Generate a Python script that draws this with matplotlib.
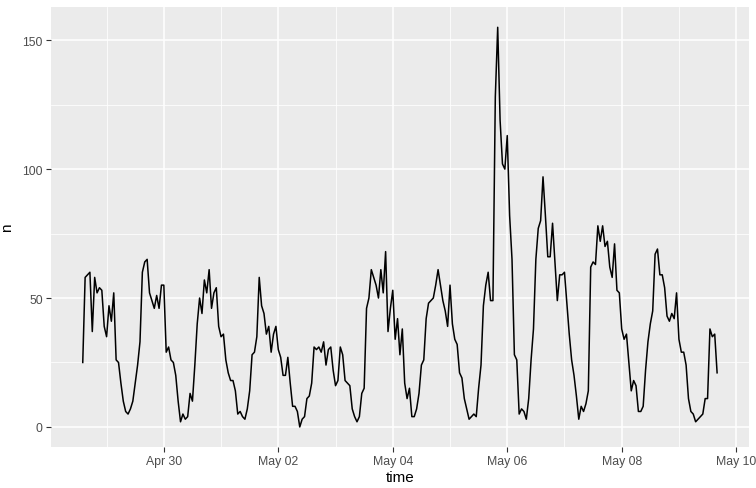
import numpy as np
import pandas as pd
import matplotlib
matplotlib.use("Agg")
import matplotlib.pyplot as plt
import matplotlib.dates as mdates
from matplotlib.ticker import FixedLocator

# hourly counts, first value is Apr 28 14:00
apr28 = [25, 58, 59, 60, 37, 58, 52, 54, 53, 39]
apr29 = [35, 47, 41, 52, 26, 25, 17, 10, 6, 5, 7, 10, 17, 24, 33, 60, 64, 65, 52, 49, 46, 51, 46, 55]
apr30 = [55, 29, 31, 26, 25, 20, 10, 2, 5, 3, 4, 13, 10, 24, 40, 50, 44, 57, 52, 61, 46, 52, 54, 39]
may01 = [35, 36, 26, 21, 18, 18, 14, 5, 6, 4, 3, 7, 14, 28, 29, 35, 58, 47, 44, 36, 39, 29, 36, 39]
may02 = [30, 27, 20, 20, 27, 17, 8, 8, 6, 0, 3, 4, 11, 12, 17, 31, 30, 31, 29, 33, 24, 30, 31, 22]
may03 = [16, 18, 31, 28, 18, 17, 16, 7, 4, 2, 4, 13, 15, 46, 50, 61, 58, 55, 50, 61, 52, 68, 37, 46]
may04 = [53, 34, 42, 28, 38, 17, 11, 15, 4, 4, 7, 13, 24, 26, 42, 48, 49, 50, 55, 61, 55, 49, 45, 39]
may05 = [55, 40, 34, 32, 21, 19, 11, 7, 3, 4, 5, 4, 15, 24, 47, 55, 60, 49, 49, 128, 155, 119, 102, 100]
may06 = [113, 82, 65, 28, 26, 5, 7, 6, 3, 11, 26, 38, 65, 77, 80, 97, 82, 66, 66, 79, 64, 49, 59, 59]
may07 = [60, 48, 36, 26, 20, 12, 3, 8, 6, 9, 14, 62, 64, 63, 78, 72, 78, 70, 72, 62, 58, 71, 53, 52]
may08 = [38, 34, 36, 25, 14, 18, 16, 6, 6, 8, 22, 33, 40, 45, 67, 69, 59, 59, 54, 43, 41, 44, 42, 52]
may09 = [34, 29, 29, 24, 11, 6, 5, 2, 3, 4, 5, 11, 11, 38, 35, 36, 21]

n = apr28 + apr29 + apr30 + may01 + may02 + may03 + may04 + may05 + may06 + may07 + may08 + may09
time = pd.date_range("2024-04-28 14:00", periods=len(n), freq="h")

major_days = ["2024-04-30", "2024-05-02", "2024-05-04", "2024-05-06", "2024-05-08", "2024-05-10"]
minor_days = ["2024-04-29", "2024-05-01", "2024-05-03", "2024-05-05", "2024-05-07", "2024-05-09"]
y_ticks = [0, 50, 100, 150]
y_minor = [25, 75, 125]

plt.rcParams['font.family'] = ['Liberation Sans', 'DejaVu Sans']

fig = plt.figure(figsize=(7.56, 4.89), dpi=100)
ax = fig.add_axes([0.0675, 0.084, 0.923, 0.899])
ax.set_facecolor('#EBEBEB')

ax.plot(time, n, color='black', lw=1.1)

# ggplot-like expansion
t0, t1 = mdates.date2num(time[0]), mdates.date2num(time[-1])
pad = (t1 - t0) * 0.05
ax.set_xlim(t0 - pad, t1 + pad)
ymax = max(n)
ax.set_ylim(-ymax * 0.05, ymax * 1.05)

ax.xaxis.set_major_locator(FixedLocator(mdates.date2num(pd.to_datetime(major_days))))
ax.xaxis.set_minor_locator(FixedLocator(mdates.date2num(pd.to_datetime(minor_days))))
ax.xaxis.set_major_formatter(mdates.DateFormatter('%b %d'))
ax.set_yticks(y_ticks)
ax.set_yticks(y_minor, minor=True)

ax.grid(which='major', color='white', lw=1.1)
ax.grid(which='minor', color='white', lw=0.55)
ax.set_axisbelow(True)
for s in ax.spines.values():
    s.set_visible(False)

ax.tick_params(which='major', length=3.5, width=0.8, color='#333333',
               labelcolor='#4D4D4D', labelsize=8.8, pad=2.5)
ax.tick_params(which='minor', length=0)

ax.set_xlabel('time', fontsize=11, labelpad=2)
ax.set_ylabel('n', fontsize=11, labelpad=6)

fig.savefig('out.png', dpi=100)
